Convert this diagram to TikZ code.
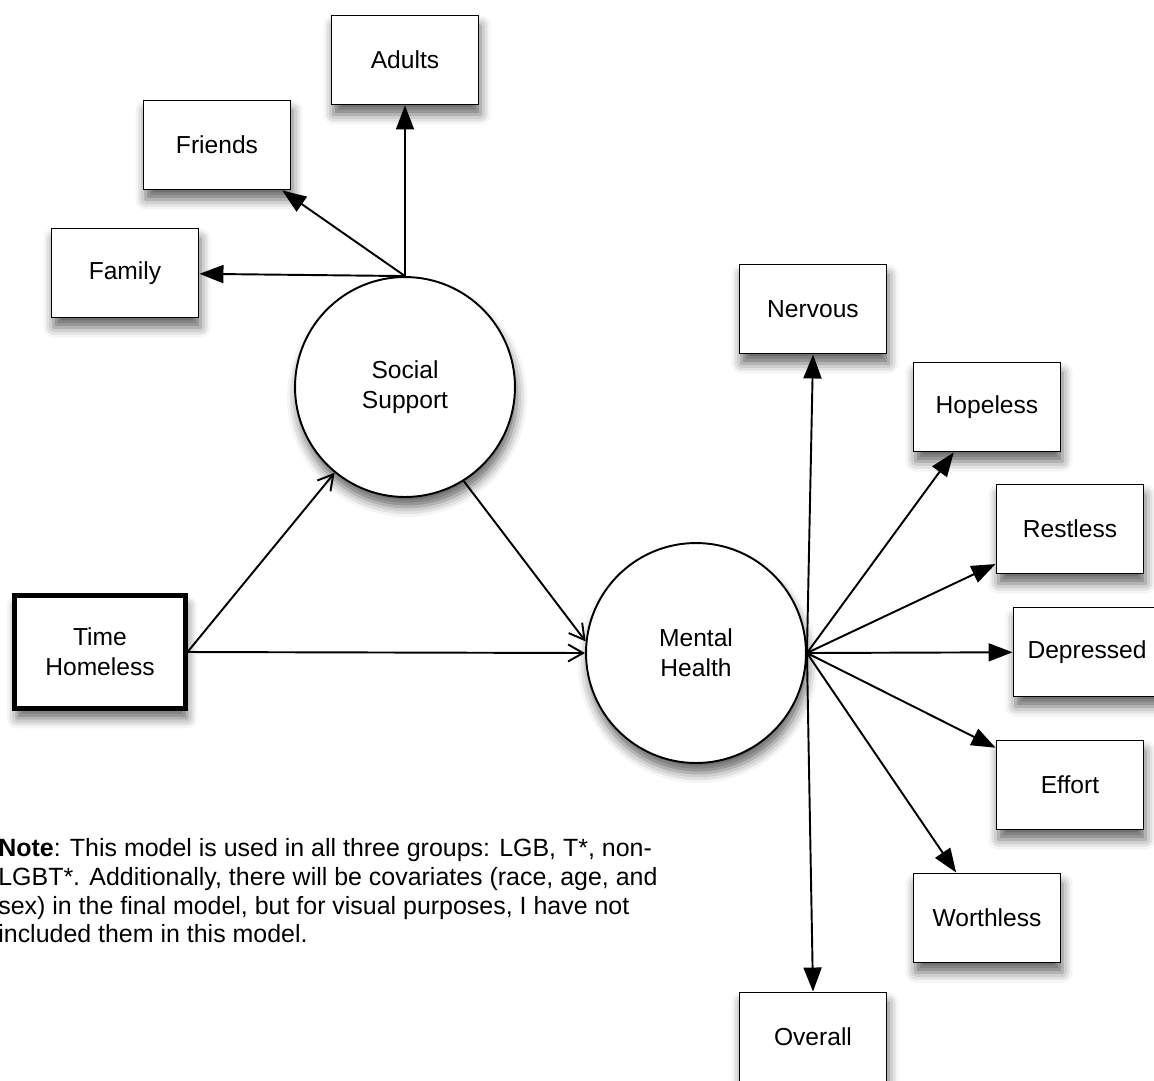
\documentclass[tikz,border=0pt]{standalone}
\usepackage{fontspec}
\setmainfont{Liberation Sans}
\usetikzlibrary{arrows.meta,shadows.blur}

\begin{document}
\begin{tikzpicture}[
    x=0.02cm, y=-0.02cm,
    font=\fontsize{14}{17}\selectfont,
    soft_shadow/.style={blur shadow={shadow xshift=0.04cm, shadow yshift=-0.2cm, shadow blur radius=0.2cm, shadow opacity=60}},
    box/.style={draw, rectangle, line width=1.1pt, minimum width=2.94cm, minimum height=1.78cm, inner sep=0pt, align=center, fill=white, soft_shadow},
    latent/.style={draw, circle, line width=1.1pt, minimum size=4.4cm, inner sep=0pt, align=center, fill=white, soft_shadow},
    arrow/.style={-{Triangle[length=0.48cm, width=0.36cm]}, line width=1.1pt},
    open_arrow/.style={-{Straight Barb[length=0.3cm, width=0.34cm]}, line width=1.1pt}
]
    \useasboundingbox (0,0) rectangle (1154,1080);

    % Latent variables
    \node[latent] (support) at (405,387) {Social\\Support};
    \node[latent] (health) at (696,653) {Mental\\Health};

    % Predictor
    \node[box, line width=2.6pt, minimum width=3.41cm, minimum height=2.25cm] (homeless) at (100,652) {Time\\Homeless};

    % Support indicators
    \node[box] (adults) at (405,60) {Adults};
    \node[box] (friends) at (217,145) {Friends};
    \node[box] (family) at (125,273) {Family};

    % Health indicators
    \node[box] (nervous) at (813,309) {Nervous};
    \node[box] (hopeless) at (987,407) {Hopeless};
    \node[box] (restless) at (1070,529) {Restless};
    \node[box] (depressed) at (1087,652) {Depressed};
    \node[box] (effort) at (1070,785) {Effort};
    \node[box] (worthless) at (987,918) {Worthless};
    \node[box] (overall) at (813,1037) {Overall};

    % Structural paths
    \draw[open_arrow] (homeless.east) -- (support);
    \draw[open_arrow] (homeless.east) -- (health.west);
    \draw[open_arrow] (support.-58) -- (health.174);

    % Measurement paths
    \draw[arrow] (support.north) -- (adults.south);
    \draw[arrow] (support.north) -- (friends);
    \draw[arrow] (support.north) -- (family);

    \draw[arrow] (health.east) -- (nervous.south);
    \draw[arrow] (health.east) -- (hopeless);
    \draw[arrow] (health.east) -- (restless);
    \draw[arrow] (health.east) -- (depressed);
    \draw[arrow] (health.east) -- (effort);
    \draw[arrow] (health.east) -- (worthless);
    \draw[arrow] (health.east) -- (overall.north);

    % Note
    \node[anchor=north west, inner sep=0pt, align=left, font=\fontsize{14.2}{16.4}\selectfont] (note) at (-2,838) {\textbf{Note}: This model is used in all three groups: LGB, T*, non-\\LGBT*. Additionally, there will be covariates (race, age, and\\sex) in the final model, but for visual purposes, I have not\\included them in this model.};
\end{tikzpicture}
\end{document}
